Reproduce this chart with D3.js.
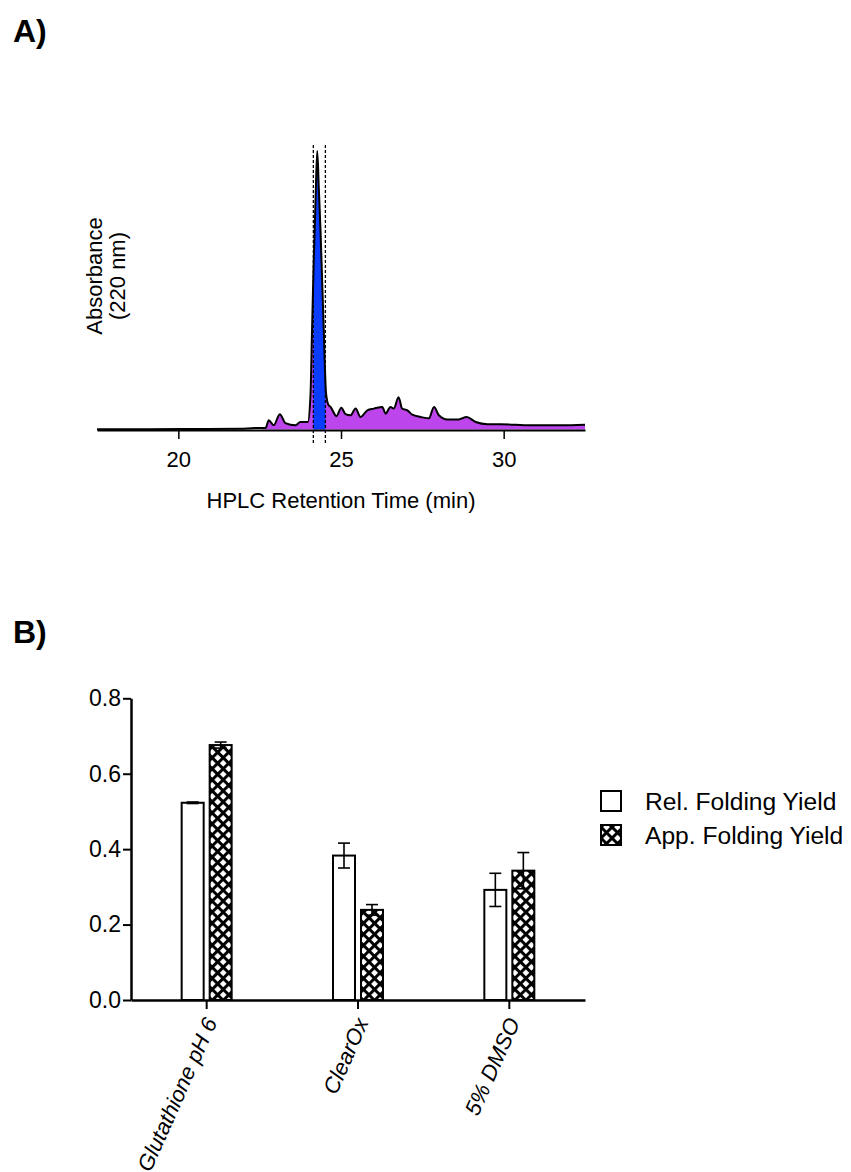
<!DOCTYPE html>
<html>
<head>
<meta charset="utf-8">
<script src="https://cdn.jsdelivr.net/npm/d3@7/dist/d3.min.js"></script>
<style>
  html, body { margin: 0; padding: 0; background: #fff; }
  svg { display: block; font-family: "Liberation Sans", Arial, sans-serif; }
</style>
</head>
<body>
<svg id="fig" width="851" height="1172"></svg>
<script>
// ---------- Panel A data: HPLC chromatogram ----------
const hplcTime = [17.5, 19.1, 20.7, 21.9, 22.37, 22.68, 22.78, 22.93, 23.12, 23.29, 23.6, 23.75, 23.98,
  24.06, 24.11, 24.16, 24.22, 24.27, 24.32, 24.37, 24.42, 24.47, 24.54, 24.62, 24.68, 24.86, 25.01,
  25.14, 25.29, 25.45, 25.6, 25.81, 26.01, 26.27, 26.37, 26.52, 26.62, 26.77, 26.88, 27.04, 27.19,
  27.45, 27.7, 27.86, 28.01, 28.27, 28.62, 28.86, 29.14, 29.5, 29.91, 30.83, 31.75, 32.5];
const hplcAbs = [0.1, 0.1, 0.2, 0.3, 0.5, 0.5, 3.3, 1.5, 5.5, 2.3, 1.5, 2.7, 2.7,
  11.7, 35.7, 59.8, 83.6, 100, 86, 71.6, 53.6, 35.7, 13, 8.7, 8.1, 4.8, 7.8,
  5.5, 5.1, 7.5, 4.5, 6.9, 7.5, 8.1, 5.7, 8.1, 7.5, 11.6, 7.5, 6.9, 5.3,
  4.5, 4.0, 8.1, 5.1, 3.6, 3.6, 4.5, 2.7, 1.9, 1.9, 1.5, 1.5, 1.7];
const hplcTicks = [20, 25, 30];
const fractionWindow = [24.15, 24.52];
const impurityStart = 22.6;

// ---------- Panel B data: folding yields ----------
const categories = ["Glutathione pH 6", "ClearOx", "5% DMSO"];
const seriesNames = ["Rel. Folding Yield", "App. Folding Yield"];
const relYield = [0.523, 0.383, 0.292];
const relErr = [0.002, 0.033, 0.044];
const appYield = [0.676, 0.239, 0.343];
const appErr = [0.008, 0.014, 0.048];
const yTicksB = [0, 0.2, 0.4, 0.6, 0.8];

const svg = d3.select("#fig");
const FS = 22;

// pattern for hatched bars
const defs = svg.append("defs");
const pat = defs.append("pattern").attr("id", "xhatch")
  .attr("patternUnits", "userSpaceOnUse").attr("width", 7.8).attr("height", 7.8)
  .attr("patternTransform", "rotate(45)");
pat.append("rect").attr("width", 7.8).attr("height", 7.8).attr("fill", "#fff");
pat.append("rect").attr("width", 7.8).attr("height", 3).attr("fill", "#000");
pat.append("rect").attr("width", 3).attr("height", 7.8).attr("fill", "#000");

// Panel labels
svg.append("text").attr("x", 13).attr("y", 42).attr("font-size", 32).attr("font-weight", "bold").text("A)");
svg.append("text").attr("x", 13).attr("y", 643).attr("font-size", 32).attr("font-weight", "bold").text("B)");

// ---------- Panel A ----------
const xA = d3.scaleLinear().domain([17.5, 32.5]).range([97, 585]);
const yA = d3.scaleLinear().domain([0, 100]).range([429.5, 151]);
const pts = hplcTime.map((t, i) => [t, hplcAbs[i]]);

defs.append("clipPath").attr("id", "clipImp").append("rect")
  .attr("x", xA(impurityStart)).attr("y", 0).attr("width", xA(32.5) - xA(impurityStart)).attr("height", 600);
defs.append("clipPath").attr("id", "clipWin").append("rect")
  .attr("x", xA(fractionWindow[0])).attr("y", 0).attr("width", xA(fractionWindow[1]) - xA(fractionWindow[0])).attr("height", 600);

const area = d3.area().curve(d3.curveMonotoneX).x(d => xA(d[0])).y0(yA(0)).y1(d => yA(d[1]));
const line = d3.line().curve(d3.curveMonotoneX).x(d => xA(d[0])).y(d => yA(d[1]));

svg.append("path").datum(pts).attr("d", area).attr("fill", "#BC45EC").attr("clip-path", "url(#clipImp)");
svg.append("path").datum(pts).attr("d", area).attr("fill", "#0A3DFF").attr("clip-path", "url(#clipWin)");
svg.append("path").datum(pts).attr("d", line).attr("fill", "none").attr("stroke", "#000").attr("stroke-width", 2);

// dashed window lines
svg.selectAll(".win").data(fractionWindow).enter().append("line")
  .attr("x1", d => xA(d)).attr("x2", d => xA(d)).attr("y1", 145).attr("y2", 445)
  .attr("stroke", "#000").attr("stroke-width", 1.3).attr("stroke-dasharray", "3,2");

const axA = svg.append("g").attr("transform", "translate(0,430)")
  .call(d3.axisBottom(xA).tickValues(hplcTicks).tickSize(9).tickSizeOuter(0).tickPadding(12));
axA.select(".domain").attr("stroke-width", 2);
axA.selectAll(".tick line").attr("stroke-width", 1.5);
axA.selectAll("text").attr("font-size", FS).attr("font-family", "Liberation Sans, Arial").attr("fill", "#000");

svg.append("text").attr("x", xA(25)).attr("y", 508).attr("text-anchor", "middle").attr("font-size", FS)
  .text("HPLC Retention Time (min)");
svg.append("text").attr("transform", "translate(102,276) rotate(-90)").attr("text-anchor", "middle")
  .attr("font-size", FS).text("Absorbance");
svg.append("text").attr("transform", "translate(125,276) rotate(-90)").attr("text-anchor", "middle")
  .attr("font-size", FS).text("(220 nm)");

// ---------- Panel B ----------
const xB = d3.scaleBand().domain(categories).range([131, 585]);
const xInner = d3.scaleBand().domain(seriesNames).range([-25, 25]).paddingInner(0.214);
const yB = d3.scaleLinear().domain([0, 0.8]).range([1000, 698.3]);

const rows = categories.map((c, i) => ({ c, vals: [
  { s: seriesNames[0], v: relYield[i], e: relErr[i] },
  { s: seriesNames[1], v: appYield[i], e: appErr[i] }] }));

const grp = svg.selectAll(".cat").data(rows).enter().append("g")
  .attr("transform", d => `translate(${xB(d.c) + xB.bandwidth() / 2},0)`);

grp.selectAll("rect").data(d => d.vals).enter().append("rect")
  .attr("x", d => xInner(d.s)).attr("width", xInner.bandwidth())
  .attr("y", d => yB(d.v)).attr("height", d => yB(0) - yB(d.v))
  .attr("fill", (d, i) => i === 0 ? "#fff" : "url(#xhatch)")
  .attr("stroke", "#000").attr("stroke-width", 2);

const eb = grp.selectAll(".eb").data(d => d.vals).enter().append("g")
  .attr("transform", d => `translate(${xInner(d.s) + xInner.bandwidth() / 2},0)`);
eb.append("line").attr("y1", d => yB(d.v + d.e)).attr("y2", d => yB(d.v - d.e))
  .attr("stroke", "#000").attr("stroke-width", 1.6);
eb.append("line").attr("x1", -6).attr("x2", 6).attr("y1", d => yB(d.v + d.e)).attr("y2", d => yB(d.v + d.e))
  .attr("stroke", "#000").attr("stroke-width", 1.6);
eb.append("line").attr("x1", -6).attr("x2", 6).attr("y1", d => yB(d.v - d.e)).attr("y2", d => yB(d.v - d.e))
  .attr("stroke", "#000").attr("stroke-width", 1.6);

const axBy = svg.append("g").attr("transform", "translate(131,0)")
  .call(d3.axisLeft(yB).tickValues(yTicksB).tickFormat(d3.format(".1f")).tickSize(8).tickSizeOuter(0).tickPadding(2));
axBy.select(".domain").attr("stroke-width", 2.5);
axBy.selectAll(".tick line").attr("stroke-width", 2);
axBy.selectAll("text").attr("font-size", 23).attr("font-family", "Liberation Sans, Arial").attr("fill", "#000");

const axBx = svg.append("g").attr("transform", "translate(0,1000)")
  .call(d3.axisBottom(xB).tickSize(9).tickSizeOuter(0));
axBx.select(".domain").attr("stroke-width", 2.5);
axBx.selectAll(".tick line").attr("stroke-width", 2);
axBx.selectAll("text").attr("font-size", FS).attr("font-family", "Liberation Sans, Arial").attr("fill", "#000")
  .attr("font-style", "italic")
  .attr("text-anchor", "end").attr("x", 0).attr("y", 0).attr("dy", "0.35em")
  .attr("transform", "translate(4,19) rotate(-66)");

// legend
const leg = svg.append("g").selectAll("g").data(seriesNames).enter().append("g")
  .attr("transform", (d, i) => `translate(601,${791 + i * 34})`);
leg.append("rect").attr("width", 20).attr("height", 20)
  .attr("fill", (d, i) => i === 0 ? "#fff" : "url(#xhatch)").attr("stroke", "#000").attr("stroke-width", 2);
leg.append("text").attr("x", 44).attr("y", 10).attr("dy", "0.35em").attr("font-size", 24.6).text(d => d);
</script>
</body>
</html>
